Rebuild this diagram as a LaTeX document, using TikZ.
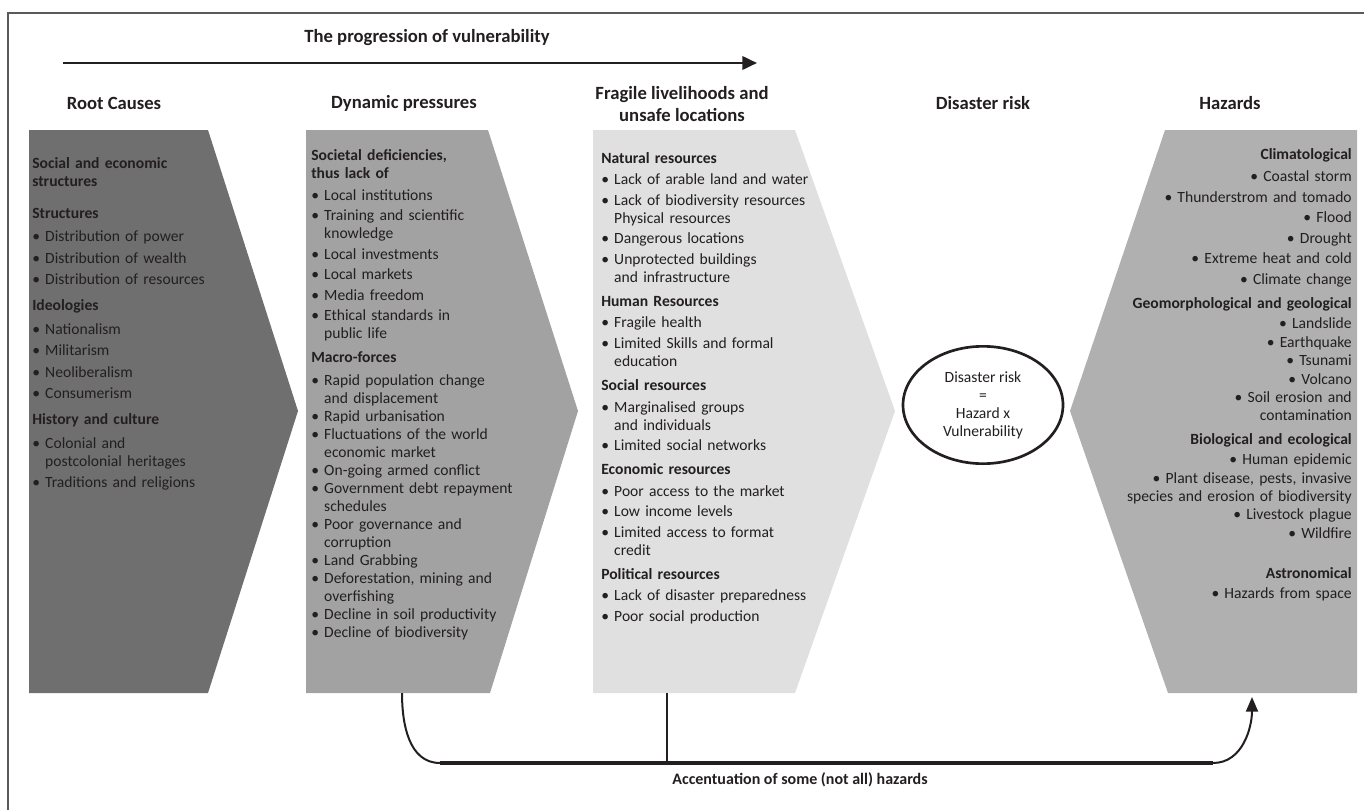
\documentclass[tikz,border=0pt]{standalone}
\usepackage{fontspec}
\setmainfont{Carlito}
\usepackage{tikz}
\usetikzlibrary{arrows.meta, positioning, shapes.geometric}

\definecolor{rootGray}{HTML}{6F6F6F}
\definecolor{pressureGray}{HTML}{A2A2A2}
\definecolor{fragileGray}{HTML}{E0E0E0}
\definecolor{hazardGray}{HTML}{B0B0B0}
\definecolor{inkBlack}{HTML}{231F20}
\definecolor{frameGray}{HTML}{5A5A5A}

% list helpers for the column texts
\newlength{\bulletIndent}
\newlength{\itemSkip}
\newlength{\headSkip}
\newlength{\headAfter}
\newcommand{\colHead}[2][\headSkip]{\par\vspace{#1}\noindent\textbf{#2}\par\vspace{\headAfter}}
\newcommand{\colItem}[1]{\par\vspace{\itemSkip}\settowidth{\bulletIndent}{\textbullet\ }\hangindent=\bulletIndent\hangafter=1\noindent\textbullet\ #1\par}

\begin{document}
\begin{tikzpicture}[x=0.75pt, y=0.75pt,
		colTitle/.style = {inner sep = 0pt, align = center, text = inkBlack, font = \fontsize{14}{16.5}\selectfont\bfseries},
		colText/.style = {inner sep = 0pt, text = inkBlack, font = \fontsize{11.7}{13.5}\selectfont},
		thinLink/.style = {line width = 1.5pt, inkBlack},
	]

		% contant definitions
		\def\shapeTop{-130}
		\def\shapeMid{-411}
		\def\shapeBot{-693}

		\useasboundingbox (0, 0) rectangle (1364, -810);

		% frame
		\draw[frameGray, line width = 1.4pt] (1364, -13) -- (8, -13) -- (8, -810);

		% progression arrow
		\coordinate (PS) at (+63, -63);
		\coordinate (PE) at (+757, -63);
		\node[colTitle] (progTitle) at (+427, -38) {The progression of vulnerability};
		\draw[line width = 2pt, inkBlack, -{Triangle[length = 11pt, width = 10pt]}] (PS) -- (PE);

		% column titles
		\node[colTitle] (rootTitle) at (+114, -103) {Root Causes};
		\node[colTitle] (pressTitle) at (+404, -103) {Dynamic pressures};
		\node[colTitle] (fragTitle) at (+682, -104) {Fragile livelihoods and\\unsafe locations};
		\node[colTitle] (riskTitle) at (+983, -103) {Disaster risk};
		\node[colTitle] (hazTitle) at (+1230, -103) {Hazards};

		% chevrons
		\fill[rootGray] (+29, \shapeTop) -- (+208, \shapeTop) -- (+298, \shapeMid) -- (+208, \shapeBot) -- (+29, \shapeBot) -- cycle;
		\fill[pressureGray] (+306, \shapeTop) -- (+488, \shapeTop) -- (+578, \shapeMid) -- (+490, \shapeBot) -- (+306, \shapeBot) -- cycle;
		\fill[fragileGray] (+593, \shapeTop) -- (+795, \shapeTop) -- (+895, \shapeMid) -- (+795, \shapeBot) -- (+593, \shapeBot) -- cycle;
		\fill[hazardGray] (+1165, \shapeTop) -- (+1357, \shapeTop) -- (+1357, \shapeBot) -- (+1168, \shapeBot) -- (+1070, \shapeMid) -- cycle;

		% root causes
		\node[colText, anchor = north west, text width = 150pt, align = left] (rootText) at (+32, -150) {%
			\setlength{\itemSkip}{2.6pt}\setlength{\headSkip}{6pt}\setlength{\headAfter}{1.5pt}%
			\colHead[0pt]{Social and economic\\structures}
			\colHead[9pt]{Structures}
			\colItem{Distribution of power}
			\colItem{Distribution of wealth}
			\colItem{Distribution of resources}
			\colHead{Ideologies}
			\colItem{Nationalism}
			\colItem{Militarism}
			\colItem{Neoliberalism}
			\colItem{Consumerism}
			\colHead{History and culture}
			\colItem{Colonial and\newline postcolonial heritages}
			\colItem{Traditions and religions}
		};

		% dynamic pressures
		\node[colText, anchor = north west, text width = 175pt, align = left] (pressText) at (+311, -142) {%
			\setlength{\itemSkip}{1.9pt}\setlength{\headSkip}{4.1pt}\setlength{\headAfter}{1.1pt}%
			\colHead[0pt]{Societal deficiencies,\\thus lack of}
			\colItem{Local institutions}
			\colItem{Training and scientific\newline knowledge}
			\colItem{Local investments}
			\colItem{Local markets}
			\colItem{Media freedom}
			\colItem{Ethical standards in\newline public life}
			\setlength{\itemSkip}{0pt}\setlength{\headAfter}{3.75pt}%
			\colHead{Macro-forces}
			\colItem{Rapid population change\newline and displacement}
			\colItem{Rapid urbanisation}
			\colItem{Fluctuations of the world\newline economic market}
			\colItem{On-going armed conflict}
			\colItem{Government debt repayment\newline schedules}
			\colItem{Poor governance and\newline corruption}
			\colItem{Land Grabbing}
			\colItem{Deforestation, mining and\newline overfishing}
			\colItem{Decline in soil productivity}
			\colItem{Decline of biodiversity}
		};

		% fragile livelihoods
		\node[colText, anchor = north west, text width = 175pt, align = left] (fragText) at (+601, -145) {%
			\setlength{\itemSkip}{1.9pt}\setlength{\headSkip}{4.5pt}\setlength{\headAfter}{0.75pt}%
			\colHead[0pt]{Natural resources}
			\colItem{Lack of arable land and water}
			\colItem{Lack of biodiversity resources\newline Physical resources}
			\colItem{Dangerous locations}
			\colItem{Unprotected buildings\newline and infrastructure}
			\colHead{Human Resources}
			\colItem{Fragile health}
			\colItem{Limited Skills and formal\newline education}
			\colHead{Social resources}
			\colItem{Marginalised groups\newline and individuals}
			\colItem{Limited social networks}
			\colHead{Economic resources}
			\colItem{Poor access to the market}
			\colItem{Low income levels}
			\colItem{Limited access to format\newline credit}
			\colHead{Political resources}
			\colItem{Lack of disaster preparedness}
			\colItem{Poor social production}
		};

		% disaster risk
		\node[colText, ellipse, draw = inkBlack, line width = 2pt, minimum width = 120pt, minimum height = 88pt, align = center] (risk) at (+983, -405) {Disaster risk\\=\\Hazard x\\Vulnerability};

		% hazards
		\node[colText, anchor = north east, text width = 200pt, align = right] (hazText) at (+1352, -141) {%
			\setlength{\itemSkip}{1.9pt}\setlength{\headSkip}{4.5pt}\setlength{\headAfter}{1.5pt}%
			\colHead[0pt]{Climatological}
			\colItem{Coastal storm}
			\colItem{Thunderstrom and tomado}
			\colItem{Flood}
			\colItem{Drought}
			\colItem{Extreme heat and cold}
			\colItem{Climate change}
			\colHead{Geomorphological and geological}
			\setlength{\itemSkip}{0.3pt}%
			\colItem{Landslide}
			\colItem{Earthquake}
			\colItem{Tsunami}
			\colItem{Volcano}
			\colItem{Soil erosion and\\contamination}
			\colHead{Biological and ecological}
			\colItem{Human epidemic}
			\colItem{Plant disease, pests, invasive\\species and erosion of biodiversity}
			\colItem{Livestock plague}
			\colItem{Wildfire}
			\colHead[16.5pt]{Astronomical}
			\colItem{Hazards from space}
		};

		% accentuation link coordinates
		\coordinate (pressBot) at (+402, \shapeBot);
		\coordinate (fragBot) at (+667, \shapeBot);
		\coordinate (linkL) at (+440, -763);
		\coordinate (linkM) at (+667, -763);
		\coordinate (linkR) at (+1213, -763);
		\coordinate (hazBot) at (+1252, -697);

		% accentuation links
		\draw[thinLink] (pressBot) to [out = -90, in = 180] (linkL);
		\draw[line width = 2.4pt, inkBlack] (linkL) -- (linkR);
		\draw[thinLink, -{Triangle[length = 11pt, width = 9pt]}] (linkR) to [out = 0, in = -90] (hazBot);
		\draw[line width = 1.1pt, inkBlack] (fragBot) -- (linkM);
		\node[colText, font = \fontsize{12}{14}\selectfont\bfseries] (accLabel) at (+800, -780) {Accentuation of some (not all) hazards};

\end{tikzpicture}
\end{document}
